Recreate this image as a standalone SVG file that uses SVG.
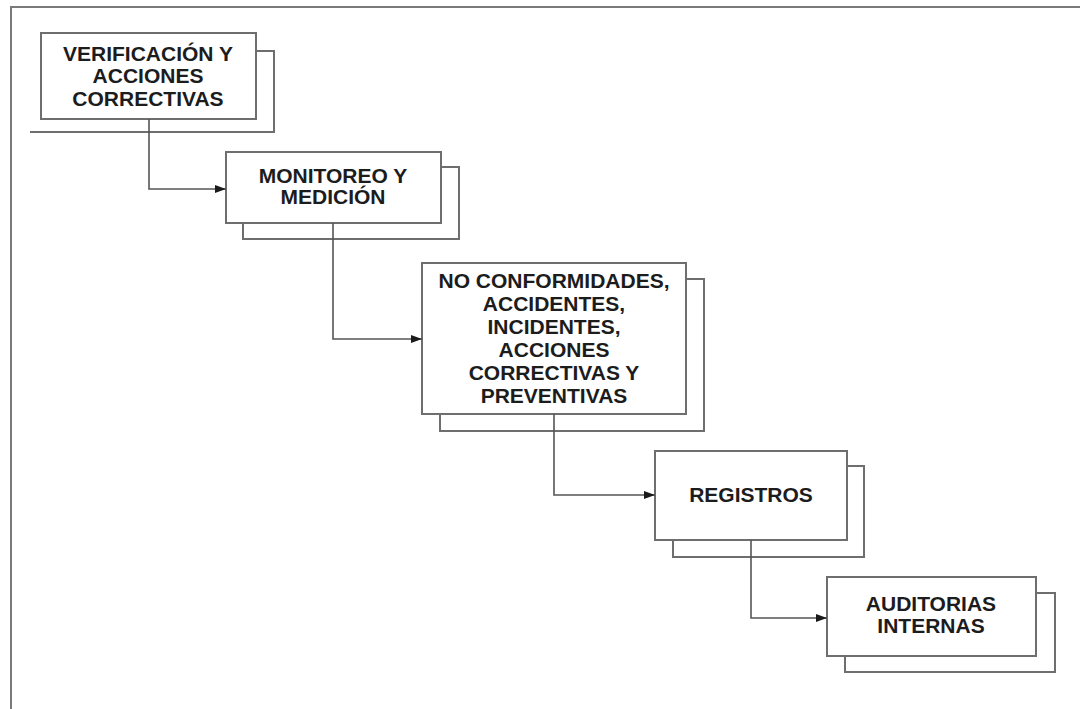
<svg xmlns="http://www.w3.org/2000/svg" width="1080" height="709" viewBox="0 0 1080 709">
  <defs>
    <marker id="arrow" viewBox="0 0 11 8" refX="11" refY="4" markerWidth="11" markerHeight="8" markerUnits="userSpaceOnUse" orient="auto">
      <path d="M0,0 L11,4 L0,8 Z" fill="#1a1a1a"/>
    </marker>
    <style>
      .frame { fill: none; stroke: #7a7a7a; stroke-width: 2; }
      .box { fill: #ffffff; stroke: #6e6e6e; stroke-width: 2; }
      .shadow { fill: #ffffff; stroke: #6e6e6e; stroke-width: 2; }
      .link { fill: none; stroke: #555555; stroke-width: 1.6; }
      .label { font-family: "Liberation Sans", Arial, sans-serif; font-weight: bold; font-size: 21px; fill: #1c1c1c; text-anchor: middle; }
    </style>
  </defs>

  <rect width="1080" height="709" fill="#ffffff"/>

  <!-- outer frame -->
  <path class="frame" d="M11,709 L11,7 L1080,7"/>

  <!-- nodes -->
  <g id="verificacion">
    <path class="shadow" d="M256,51 L274,51 L274,132 L30,132" fill="none"/>
    <rect class="box" x="41" y="33" width="215" height="86"/>
    <text class="label" x="148" y="61">VERIFICACIÓN Y</text>
    <text class="label" x="148" y="83">ACCIONES</text>
    <text class="label" x="148" y="106">CORRECTIVAS</text>
  </g>

  <g id="monitoreo">
    <rect class="shadow" x="243" y="167" width="216" height="72"/>
    <rect class="box" x="226" y="152" width="215" height="71"/>
    <text class="label" x="333" y="183">MONITOREO Y</text>
    <text class="label" x="333" y="204">MEDICIÓN</text>
  </g>

  <g id="no-conformidades">
    <rect class="shadow" x="440" y="279" width="264" height="152"/>
    <rect class="box" x="422" y="263" width="264" height="151"/>
    <text class="label" x="554" y="288">NO CONFORMIDADES,</text>
    <text class="label" x="554" y="311">ACCIDENTES,</text>
    <text class="label" x="554" y="334">INCIDENTES,</text>
    <text class="label" x="554" y="357">ACCIONES</text>
    <text class="label" x="554" y="380">CORRECTIVAS Y</text>
    <text class="label" x="554" y="403">PREVENTIVAS</text>
  </g>

  <g id="registros">
    <rect class="shadow" x="673" y="466" width="191" height="91"/>
    <rect class="box" x="655" y="451" width="192" height="89"/>
    <text class="label" x="751" y="502">REGISTROS</text>
  </g>

  <g id="auditorias">
    <rect class="shadow" x="845" y="593" width="210" height="79"/>
    <rect class="box" x="827" y="577" width="209" height="79"/>
    <text class="label" x="931" y="611">AUDITORIAS</text>
    <text class="label" x="931" y="633">INTERNAS</text>
  </g>

  <!-- connectors -->
  <g id="connectors">
    <path class="link" d="M149,119 L149,189 L226,189" marker-end="url(#arrow)"/>
    <path class="link" d="M333,223 L333,339 L422,339" marker-end="url(#arrow)"/>
    <path class="link" d="M554,414 L554,495 L655,495" marker-end="url(#arrow)"/>
    <path class="link" d="M751,540 L751,618 L827,618" marker-end="url(#arrow)"/>
  </g>
</svg>
